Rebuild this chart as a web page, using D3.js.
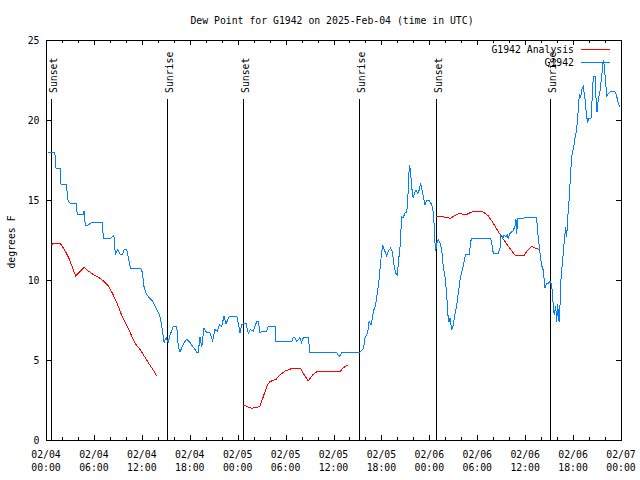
<!DOCTYPE html>
<html>
<head>
<meta charset="utf-8">
<script src="https://cdn.jsdelivr.net/npm/d3@7"></script>
<style>
  body { margin: 0; background: #fff; }
  svg text { font-family: "DejaVu Sans Mono", "Liberation Mono", monospace; font-size: 9.8px; fill: #000; }
</style>
</head>
<body>
<div id="chart"></div>
<script>
// hours since 2025-02-04 00:00 UTC
const obsHours = [0.25,1.0,1.13,1.25,1.75,1.88,2.5,2.6,2.75,3.0,3.76,3.92,4.67,4.76,4.92,5.1,5.8,7.05,7.18,8.1,8.5,8.68,9.0,9.3,9.6,9.77,10.1,10.6,11.86,12.06,12.27,12.48,12.9,13.3,13.74,14.15,14.36,14.56,14.78,15.03,15.31,15.53,15.94,16.37,16.57,16.78,17.19,17.62,18.03,18.44,18.87,19.07,19.28,19.5,19.78,20.12,20.54,20.87,21.16,21.45,21.7,22.0,22.29,22.54,22.95,23.88,24.08,24.29,24.51,24.7,25.04,25.33,25.55,25.96,26.38,26.58,26.8,27.0,27.64,27.84,28.68,28.8,30.14,30.77,30.97,31.18,31.39,31.8,32.0,32.22,32.84,33.06,36.4,36.73,37.03,39.23,39.75,39.95,40.28,40.45,40.7,40.86,41.03,41.28,41.41,41.61,41.74,41.95,42.16,42.36,42.66,42.86,43.16,43.36,43.61,43.83,43.99,44.11,44.33,44.54,44.74,44.95,45.16,45.29,45.45,45.54,45.67,45.79,45.99,46.12,46.33,46.54,46.71,46.92,47.05,47.25,47.46,47.67,47.87,48.08,48.3,48.5,48.62,48.71,48.8,48.92,49.12,49.34,49.55,49.75,49.96,50.17,50.3,50.46,50.59,50.8,51.0,51.22,51.43,51.63,51.84,52.05,52.25,52.46,52.55,53.0,53.18,53.3,55.68,55.81,56.01,56.64,56.85,56.94,57.06,57.19,57.35,57.6,57.76,57.89,58.1,58.31,58.52,58.73,58.85,58.94,59.06,60.6,61.44,61.52,61.65,61.86,62.07,62.27,62.48,62.7,62.9,63.11,63.32,63.52,63.65,63.82,63.95,64.07,64.24,64.36,64.49,64.65,64.86,65.08,65.2,65.33,65.53,65.7,65.83,66.03,66.24,66.45,66.66,66.78,66.95,67.08,67.28,67.49,67.7,67.83,67.99,68.24,68.41,68.53,68.75,68.87,69.0,69.16,69.37,69.58,69.7,69.83,70.0,70.21,70.5,70.84,71.25,71.46,71.66,71.87];
const obsValues = [18.0,18.0,17.8,17.0,17.0,16.0,16.0,15.7,15.0,14.8,14.8,14.1,14.1,14.3,13.4,13.4,13.6,13.6,12.6,12.6,12.8,11.6,11.9,11.6,11.6,11.9,11.9,10.7,10.7,10.5,9.6,9.2,8.9,8.7,8.3,7.9,7.5,6.9,6.1,6.4,6.1,6.56,7.1,7.1,5.8,5.5,6.0,6.3,6.1,5.8,5.5,5.5,6.45,5.8,7.0,6.7,6.7,6.2,6.9,6.8,7.2,7.1,7.75,7.25,7.75,7.75,7.3,6.7,7.2,7.25,7.3,6.65,6.9,6.8,7.4,7.4,6.7,6.8,6.8,7.1,7.1,6.15,6.15,6.15,6.4,6.4,6.15,6.4,6.1,6.4,6.4,5.46,5.46,5.2,5.46,5.46,5.7,6.4,6.7,7.4,7.2,7.6,8.1,8.4,8.96,9.6,10.2,11.35,12.2,11.9,11.5,11.8,12.0,11.8,10.8,10.4,10.3,11.0,12.1,13.96,13.9,14.2,14.2,14.9,16.7,17.2,16.6,15.8,15.1,15.4,15.6,15.4,15.6,16.04,15.7,15.2,14.7,15.0,15.0,14.9,14.7,14.2,13.3,12.3,11.8,12.3,12.5,12.3,11.9,10.8,10.2,9.2,7.9,7.4,7.6,6.9,7.2,7.9,8.4,9.2,10.0,10.5,10.9,11.4,11.6,11.6,12.4,12.6,12.6,12.3,11.67,11.67,12.0,12.8,12.8,12.6,12.8,12.7,12.8,12.6,12.9,13.0,13.1,13.4,13.8,12.9,13.85,13.9,13.9,13.3,12.6,11.67,10.9,10.6,9.5,9.8,9.8,9.9,9.7,8.4,7.8,8.4,7.4,8.5,7.4,8.4,10.1,11.0,12.2,13.3,12.7,13.85,15.2,16.8,17.7,18.2,18.85,19.4,20.7,21.56,21.4,21.9,22.08,21.3,20.2,19.9,20.1,20.1,21.5,22.7,22.7,21.4,20.5,21.3,21.8,22.7,23.4,23.75,22.8,21.5,21.7,21.8,21.75,21.5,21.04,20.8];

// analysis series, null = gap
const anaHours = [0.67,1.21,1.75,2.04,2.46,2.88,3.3,3.71,4.13,4.76,5.18,5.59,6.01,6.64,7.05,7.47,7.89,8.31,8.72,9.14,9.56,9.98,10.39,10.81,11.23,11.86,12.48,13.11,13.52,13.86,
  19.0,
  24.71,25.21,25.76,26.38,26.8,27.21,27.71,28.05,28.8,29.3,29.93,30.64,31.39,31.89,32.34,32.84,33.39,33.9,34.52,35.15,35.98,36.81,37.23,37.78,
  43.0,
  48.8,49.34,50.17,50.59,51.0,51.43,51.84,52.25,52.68,53.09,53.51,54.13,54.56,54.97,55.39,55.81,56.22,56.64,57.06,57.48,57.89,58.31,58.73,59.35,59.89,60.18,60.48,60.81,61.23,61.73];
const anaValues = [12.23,12.3,12.3,12.1,11.77,11.35,10.8,10.25,10.46,10.79,10.6,10.46,10.3,10.15,10.0,9.8,9.58,9.17,8.75,8.23,7.7,7.3,6.9,6.4,6.0,5.6,5.1,4.6,4.3,4.0,
  null,
  2.19,2.08,1.98,2.04,2.12,2.71,3.44,3.65,3.79,4.06,4.31,4.44,4.48,4.48,4.06,3.69,4.06,4.27,4.3,4.27,4.27,4.27,4.52,4.69,
  null,
  14.0,13.96,13.92,13.85,13.96,14.1,14.17,14.1,14.1,14.2,14.27,14.3,14.3,14.17,14.0,13.7,13.375,13.02,12.7,12.4,12.1,11.83,11.56,11.56,11.56,11.77,11.94,12.1,12.0,11.92];

const sunHours = [0.63, 15.17, 24.7, 39.17, 48.78, 63.13];
const sunLabels = ['Sunset', 'Sunrise', 'Sunset', 'Sunrise', 'Sunset', 'Sunrise'];

const yTicks = [0, 5, 10, 15, 20, 25];

(function () {
  const W = 640, H = 480;
  const pLeft = 46, pRight = 621, pTop = 40, pBottom = 440;
  const base = Date.UTC(2025, 1, 4);
  const toDate = h => new Date(base + h * 3600e3);

  const x = d3.scaleUtc().domain([toDate(0), toDate(72)]).range([pLeft, pRight]);
  const y = d3.scaleLinear().domain([0, 25]).range([pBottom, pTop]);

  const svg = d3.select('#chart').append('svg')
    .attr('width', W).attr('height', H)
    .style('shape-rendering', 'crispEdges');

  // title
  svg.append('text')
    .attr('x', 332).attr('y', 23.5)
    .attr('text-anchor', 'middle')
    .text('Dew Point for G1942 on 2025-Feb-04 (time in UTC)');

  // y label
  svg.append('text')
    .attr('transform', 'translate(14.5,242) rotate(-90)')
    .attr('text-anchor', 'middle')
    .text('degrees F');

  // x ticks every 2 hours, labels every 6
  const xTickDates = d3.utcHour.every(2).range(toDate(0), toDate(72.01));
  const fmtDay = d3.utcFormat('%m/%d');
  const fmtTime = d3.utcFormat('%H:%M');

  const ticks = svg.append('g').attr('stroke', '#000');
  xTickDates.forEach(d => {
    const major = d.getUTCHours() % 6 === 0;
    const len = major ? 5 : 3;
    const px = Math.round(x(d)) + 0.5;
    ticks.append('line').attr('x1', px).attr('x2', px).attr('y1', pBottom).attr('y2', pBottom - len);
    ticks.append('line').attr('x1', px).attr('x2', px).attr('y1', pTop).attr('y2', pTop + len);
  });
  yTicks.forEach(v => {
    const py = Math.round(y(v)) + 0.5;
    ticks.append('line').attr('x1', pLeft).attr('x2', pLeft + 5).attr('y1', py).attr('y2', py);
    ticks.append('line').attr('x1', pRight).attr('x2', pRight - 5).attr('y1', py).attr('y2', py);
  });

  // x labels
  d3.utcHour.every(6).range(toDate(0), toDate(72.01)).forEach(d => {
    const t = svg.append('text').attr('text-anchor', 'middle');
    t.append('tspan').attr('x', x(d)).attr('y', 458).text(fmtDay(d));
    t.append('tspan').attr('x', x(d)).attr('y', 471).text(fmtTime(d));
  });

  // y labels
  yTicks.forEach(v => {
    svg.append('text')
      .attr('x', 39.5).attr('y', y(v) + 3.5)
      .attr('text-anchor', 'end')
      .text(v);
  });

  // sunrise / sunset markers
  sunHours.forEach((h, i) => {
    const px = Math.round(x(toDate(h))) + 0.5;
    svg.append('line')
      .attr('x1', px).attr('x2', px).attr('y1', 99).attr('y2', pBottom)
      .attr('stroke', '#000');
    svg.append('text')
      .attr('transform', `translate(${px + 5},93) rotate(-90)`)
      .attr('text-anchor', 'start')
      .text(sunLabels[i]);
  });

  const line = d3.line()
    .defined(d => d.v != null)
    .x(d => x(toDate(d.h)))
    .y(d => y(d.v));

  const anaData = anaHours.map((h, i) => ({ h, v: anaValues[i] }));
  const obsData = obsHours.map((h, i) => ({ h, v: obsValues[i] }));

  svg.append('path').datum(anaData)
    .attr('d', line).attr('fill', 'none')
    .attr('stroke', '#ff0000').attr('stroke-width', 1);

  svg.append('path').datum(obsData)
    .attr('d', line).attr('fill', 'none')
    .attr('stroke', '#0080ff').attr('stroke-width', 1);

  // legend
  const legend = [['G1942 Analysis', '#ff0000', 49.5], ['G1942', '#0080ff', 62.5]];
  legend.forEach(([name, col, ly]) => {
    svg.append('text').attr('x', 574).attr('y', ly + 3.5).attr('text-anchor', 'end').text(name);
    svg.append('line').attr('x1', 581).attr('x2', 610).attr('y1', ly).attr('y2', ly)
      .attr('stroke', col);
  });

  // border
  svg.append('rect')
    .attr('x', pLeft + 0.5).attr('y', pTop + 0.5)
    .attr('width', pRight - pLeft).attr('height', pBottom - pTop)
    .attr('fill', 'none').attr('stroke', '#000');
})();
</script>
</body>
</html>
